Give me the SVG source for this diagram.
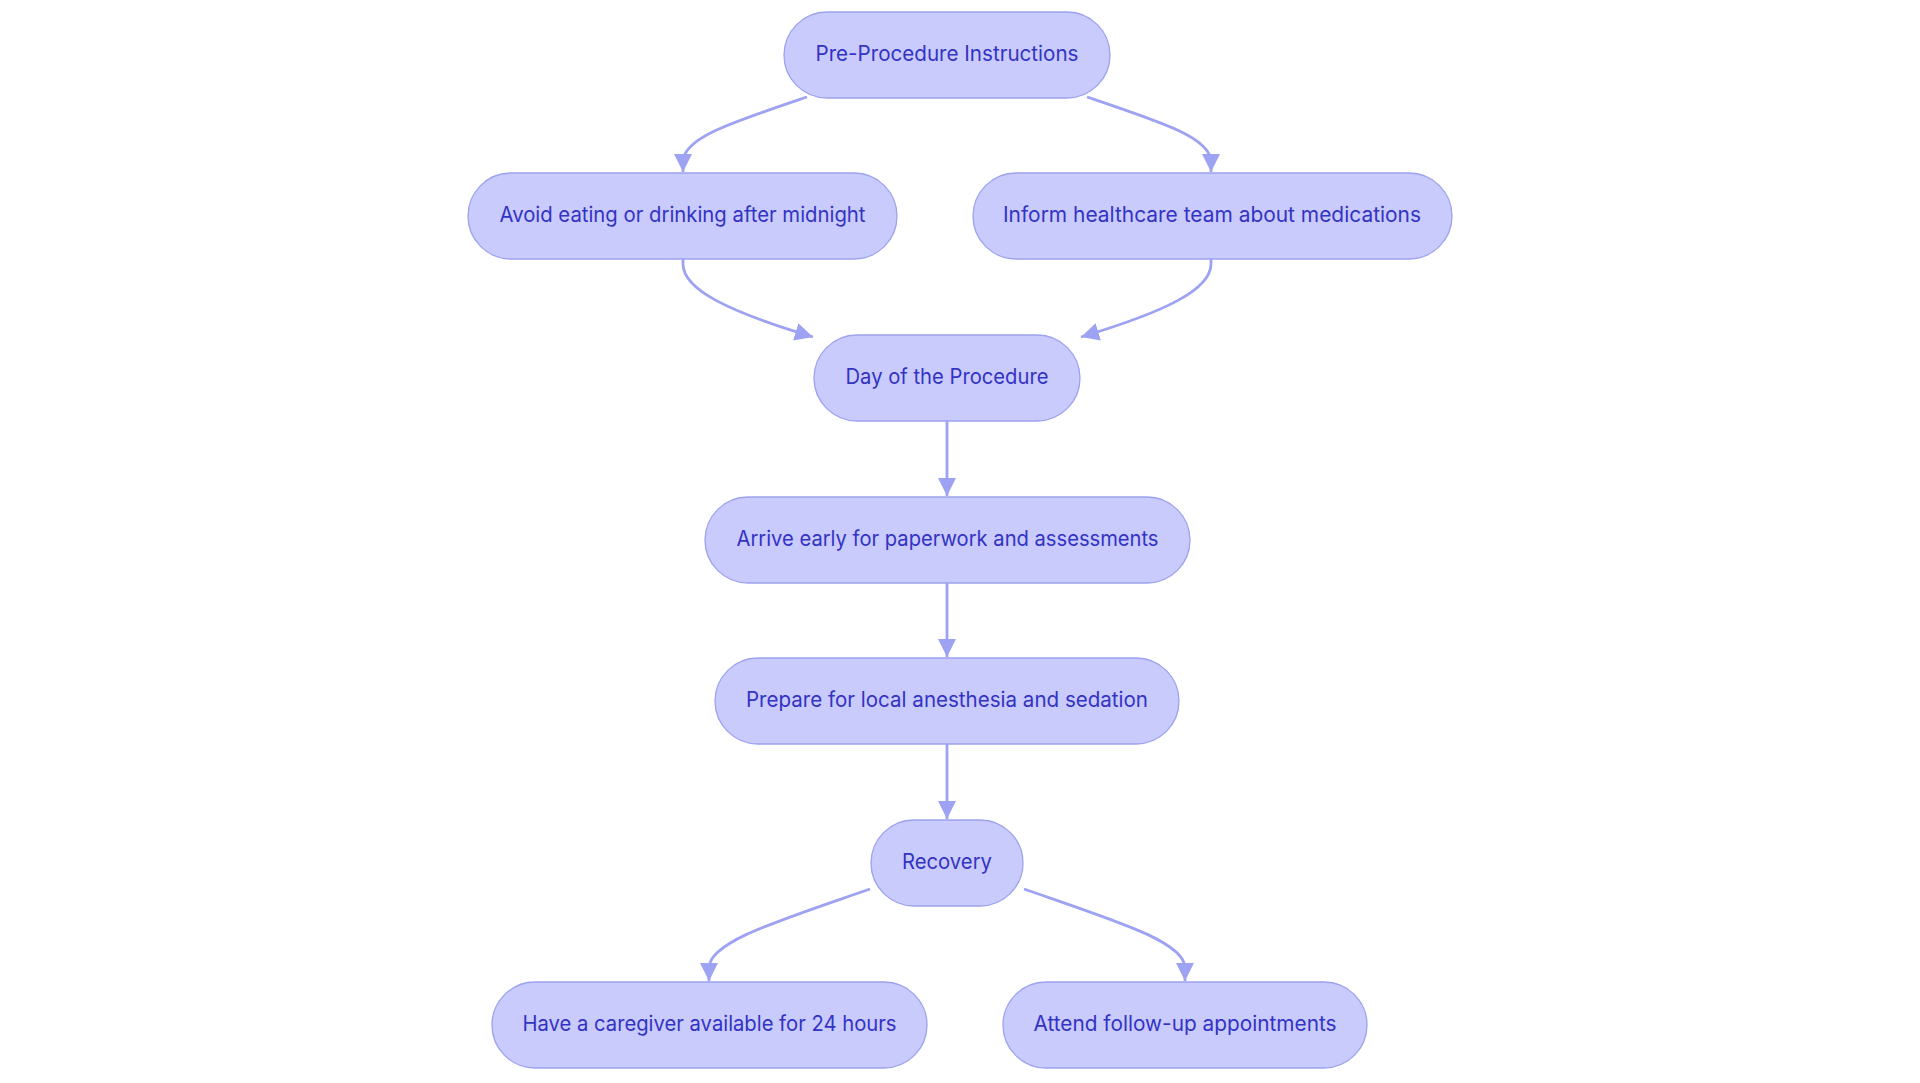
<svg xmlns="http://www.w3.org/2000/svg" width="1920" height="1083" viewBox="0 0 1920 1083">
<style>
.node rect{fill:#c9cbfc;stroke:#9ca2ee;stroke-width:1.3}
.node text{font-family:Inter,"Noto Sans","Liberation Sans",sans-serif;font-size:21px;fill:#3333c4;text-anchor:middle}
.edge{fill:none;stroke:#9ea2f2;stroke-width:2.8}
</style>
<defs>
<marker id="arr" viewBox="0 0 10 10" refX="10" refY="5" markerUnits="userSpaceOnUse" markerWidth="18" markerHeight="19" orient="auto">
<path d="M0,0 L10,5 L0,10 z" fill="#9ea2f2"/>
</marker>
</defs>
<rect width="1920" height="1083" fill="#ffffff"/>
<g id="connectors">
<path class="edge" marker-end="url(#arr)" d="M807,97 C730,123 683,138 683,162 L683,172"/>
<path class="edge" marker-end="url(#arr)" d="M1087,97 C1164,123 1211,138 1211,162 L1211,172"/>
<path class="edge" marker-end="url(#arr)" d="M683,259 L683,264 C683,290 730,312 813,337"/>
<path class="edge" marker-end="url(#arr)" d="M1211,259 L1211,264 C1211,290 1164,312 1081,337"/>
<path class="edge" marker-end="url(#arr)" d="M947,421 L947,496"/>
<path class="edge" marker-end="url(#arr)" d="M947,583 L947,657"/>
<path class="edge" marker-end="url(#arr)" d="M947,744 L947,819"/>
<path class="edge" marker-end="url(#arr)" d="M870,889 C775,922 709,942 709,968 L709,981"/>
<path class="edge" marker-end="url(#arr)" d="M1024,889 C1119,922 1185,942 1185,968 L1185,981"/>
</g>
<g id="node-pre" class="node">
<rect x="784" y="12" width="326" height="86" rx="43" ry="43"/>
<text x="947" y="61" textLength="263" lengthAdjust="spacingAndGlyphs">Pre-Procedure Instructions</text>
</g>
<g id="node-avoid" class="node">
<rect x="468" y="173" width="429" height="86" rx="43" ry="43"/>
<text x="682.5" y="222" textLength="366" lengthAdjust="spacingAndGlyphs">Avoid eating or drinking after midnight</text>
</g>
<g id="node-inform" class="node">
<rect x="973" y="173" width="479" height="86" rx="43" ry="43"/>
<text x="1212" y="222" textLength="418" lengthAdjust="spacingAndGlyphs">Inform healthcare team about medications</text>
</g>
<g id="node-day" class="node">
<rect x="814" y="335" width="266" height="86" rx="43" ry="43"/>
<text x="947" y="384" textLength="203" lengthAdjust="spacingAndGlyphs">Day of the Procedure</text>
</g>
<g id="node-arrive" class="node">
<rect x="705" y="497" width="485" height="86" rx="43" ry="43"/>
<text x="947.5" y="546" textLength="422" lengthAdjust="spacingAndGlyphs">Arrive early for paperwork and assessments</text>
</g>
<g id="node-prepare" class="node">
<rect x="715" y="658" width="464" height="86" rx="43" ry="43"/>
<text x="947" y="707" textLength="402" lengthAdjust="spacingAndGlyphs">Prepare for local anesthesia and sedation</text>
</g>
<g id="node-recovery" class="node">
<rect x="871" y="820" width="152" height="86" rx="43" ry="43"/>
<text x="947" y="869" textLength="90" lengthAdjust="spacingAndGlyphs">Recovery</text>
</g>
<g id="node-caregiver" class="node">
<rect x="492" y="982" width="435" height="86" rx="43" ry="43"/>
<text x="709.5" y="1031" textLength="374" lengthAdjust="spacingAndGlyphs">Have a caregiver available for 24 hours</text>
</g>
<g id="node-followup" class="node">
<rect x="1003" y="982" width="364" height="86" rx="43" ry="43"/>
<text x="1185" y="1031" textLength="303" lengthAdjust="spacingAndGlyphs">Attend follow-up appointments</text>
</g>
</svg>
